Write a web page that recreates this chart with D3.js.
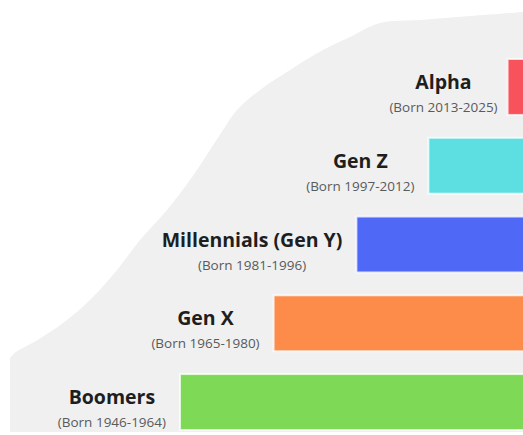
<!DOCTYPE html>
<html>
<head>
<meta charset="utf-8">
<script src="https://cdn.jsdelivr.net/npm/d3@7"></script>
<style>
html,body{margin:0;padding:0;background:#fff;}
svg{display:block;}
</style>
</head>
<body>
<svg id="chart" width="523" height="435"></svg>
<script>
const generations = ["Alpha", "Gen Z", "Millennials (Gen Y)", "Gen X", "Boomers"];
const birthRanges = ["(Born 2013-2025)", "(Born 1997-2012)", "(Born 1981-1996)", "(Born 1965-1980)", "(Born 1946-1964)"];
const barValues = [9, 31, 51, 74, 100];
const barColors = ["#f8525c", "#5ddfe2", "#4f69f6", "#fd8b4a", "#7ed957"];

const svg = d3.select("#chart");

// background silhouette (top + left edge)
const edgePts = [[523,12],[470,16],[420,20],[380,23],[350,37],[323,50],[290,70],[260,90],[237,110],[223,130],[210,150],[190,180],[167,210],[140,240],[117,270],[93,297],[67,320],[36,341],[16,352],[10,358]];
const edge = d3.line().curve(d3.curveCatmullRom.alpha(0.5))(edgePts);
svg.append("path").attr("d", edge + "L10,432L523,432Z").attr("fill", "#f0f0f0");

const y = d3.scaleBand().domain(generations).range([59, 430]).paddingInner(0.29).paddingOuter(0);
const x = d3.scaleLinear().domain([0, 100]).range([0, 360]);
const rightEdge = 540;

const g = svg.selectAll("g.gen").data(generations).join("g").attr("class", "gen");

g.append("rect")
  .attr("x", (d,i) => rightEdge - x(barValues[i]))
  .attr("y", d => y(d))
  .attr("width", (d,i) => x(barValues[i]) + 10)
  .attr("height", y.bandwidth())
  .attr("fill", (d,i) => barColors[i])
  .attr("stroke", "rgba(255,255,255,0.75)")
  .attr("stroke-width", 2);

g.each(function(d, i) {
  const grp = d3.select(this);
  const t = grp.append("text")
    .attr("y", y(d) + 30)
    .attr("text-anchor", "middle")
    .attr("font-family", "'Open Sans', sans-serif")
    .attr("font-weight", "bold")
    .attr("font-size", 19.5)
    .attr("fill", "#1e1e1e")
    .text(d);
  const s = grp.append("text")
    .attr("y", y(d) + 53)
    .attr("text-anchor", "middle")
    .attr("font-family", "'Open Sans', sans-serif")
    .attr("font-size", 13.5)
    .attr("fill", "#5a5a5a")
    .text(birthRanges[i]);
  const wMax = Math.max(t.node().getComputedTextLength(), s.node().getComputedTextLength());
  const gap = i === 0 ? 10 : 14;
  const cx = rightEdge - x(barValues[i]) - gap - wMax / 2;
  t.attr("x", cx);
  s.attr("x", cx);
});
</script>
</body>
</html>
